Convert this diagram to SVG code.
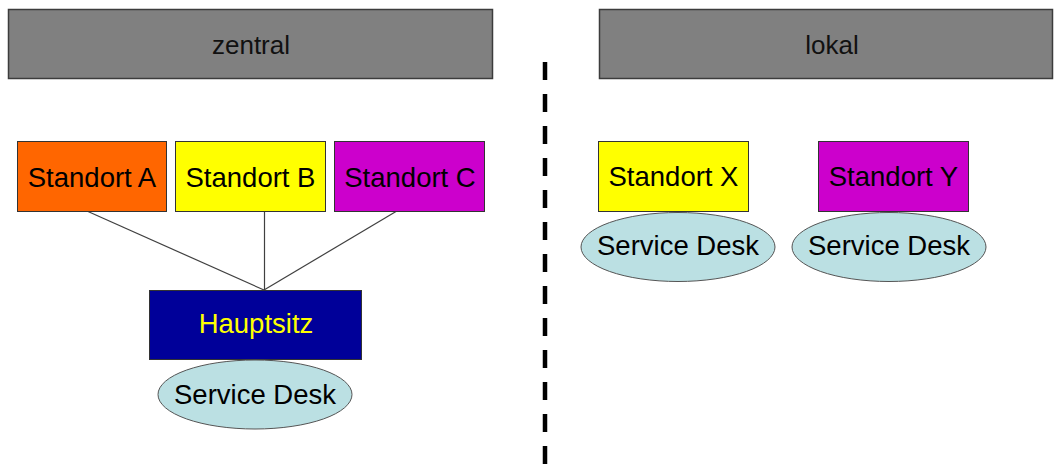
<svg xmlns="http://www.w3.org/2000/svg" width="1061" height="468" viewBox="0 0 1061 468">
  <style>
    .hdr { fill: #808080; stroke: #3c3c3c; stroke-width: 1.5; }
    .box { stroke: #333333; stroke-width: 1; }
    .desk { fill: #BBE0E3; stroke: #555555; stroke-width: 1; }
    .lbl { font-family: "Liberation Sans", Arial, sans-serif; font-size: 27.5px; fill: #000000; text-anchor: middle; }
    .hlbl { font-family: "Liberation Sans", Arial, sans-serif; font-size: 26px; fill: #111111; text-anchor: middle; }
    .link { stroke: #404040; stroke-width: 1.2; fill: none; }
    .divider { stroke: #000000; stroke-width: 4.5; stroke-dasharray: 18 14; }
  </style>
  <rect width="1061" height="468" fill="#ffffff"/>

  <!-- section headers -->
  <g id="header-zentral">
    <rect class="hdr" x="8.5" y="9.5" width="484" height="69"/>
    <text class="hlbl" x="251" y="54">zentral</text>
  </g>
  <g id="header-lokal">
    <rect class="hdr" x="599.5" y="9.5" width="453" height="69"/>
    <text class="hlbl" x="832" y="54">lokal</text>
  </g>

  <!-- divider between the two models -->
  <line id="divider" class="divider" x1="545" y1="62" x2="545" y2="468"/>

  <!-- connectors -->
  <g id="connectors">
    <line class="link" x1="88" y1="211.5" x2="264" y2="290"/>
    <line class="link" x1="264.5" y1="211.5" x2="264.5" y2="300"/>
    <line class="link" x1="396" y1="211.5" x2="264" y2="290"/>
  </g>

  <!-- central model -->
  <g id="standort-a">
    <rect class="box" x="17.5" y="141.5" width="149" height="70" fill="#FF6600"/>
    <text class="lbl" x="92" y="187">Standort A</text>
  </g>
  <g id="standort-b">
    <rect class="box" x="175.5" y="141.5" width="150" height="70" fill="#FFFF00"/>
    <text class="lbl" x="250.5" y="187">Standort B</text>
  </g>
  <g id="standort-c">
    <rect class="box" x="334.5" y="141.5" width="150" height="70" fill="#CC00CC"/>
    <text class="lbl" x="410" y="187">Standort C</text>
  </g>
  <g id="hauptsitz">
    <rect class="box" x="149.5" y="290.5" width="212" height="69" fill="#000099"/>
    <text class="lbl" x="256" y="333" style="fill:#FFFF00">Hauptsitz</text>
  </g>
  <g id="service-desk-zentral">
    <ellipse class="desk" cx="255" cy="394.5" rx="97" ry="34.5"/>
    <text class="lbl" x="255" y="404">Service Desk</text>
  </g>

  <!-- local model -->
  <g id="standort-x">
    <rect class="box" x="598.5" y="141.5" width="150" height="70" fill="#FFFF00"/>
    <text class="lbl" x="673.5" y="186">Standort X</text>
  </g>
  <g id="service-desk-x">
    <ellipse class="desk" cx="678" cy="247" rx="97" ry="34.5"/>
    <text class="lbl" x="678" y="255">Service Desk</text>
  </g>
  <g id="standort-y">
    <rect class="box" x="818.5" y="141.5" width="150" height="70" fill="#CC00CC"/>
    <text class="lbl" x="893.5" y="186">Standort Y</text>
  </g>
  <g id="service-desk-y">
    <ellipse class="desk" cx="889" cy="247" rx="97" ry="34.5"/>
    <text class="lbl" x="889" y="255">Service Desk</text>
  </g>
</svg>
